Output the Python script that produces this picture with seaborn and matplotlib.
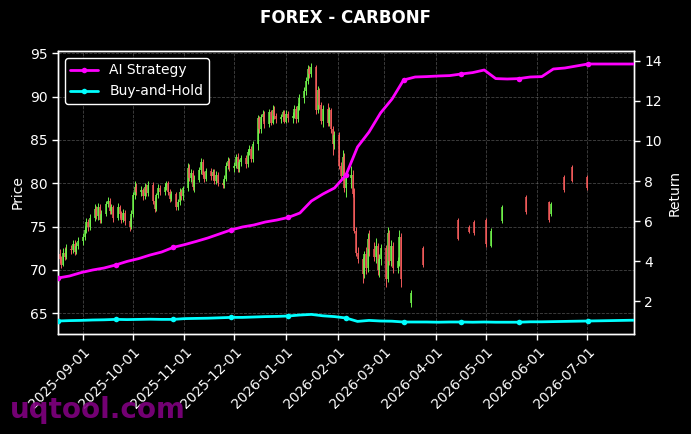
import numpy as np
import pandas as pd
import matplotlib
matplotlib.use("Agg")
import matplotlib.pyplot as plt
import matplotlib.dates as mdates
import seaborn as sns

# ---------------- data ----------------
title = "FOREX - CARBONF"

# dense daily (business day) candles
dense_start = "2025-08-18"
dense_end = "2026-03-11"
first_open = 71.8
dense_close = [
    71.2, 70.6, 72.0, 71.5, 72.4,
    72.3, 73.0, 72.1, 72.8, 73.3,
    73.8, 74.6, 75.5, 74.9, 76.0,
    77.0, 76.2, 77.3, 75.8, 76.5,
    77.6, 78.0, 76.8, 77.2, 76.0,
    77.2, 76.4, 75.8, 76.6, 75.6,
    75.0, 76.5, 78.6, 79.6, 79.0,
    79.2, 78.5, 79.6, 78.9, 79.8,
    78.0, 77.0, 78.6, 79.5, 79.0,
    79.6, 80.0, 79.0, 78.2, 78.8,
    77.2, 77.8, 79.0, 78.5, 79.4,
    81.8, 80.6, 81.2, 79.6, 80.4,
    81.5, 82.5, 81.0, 80.5, 81.4,
    80.8, 81.3, 80.2, 81.0, 80.0,
    79.8, 80.5, 82.0, 82.6, 81.8,
    82.0, 83.0, 81.6, 82.4, 82.9,
    82.2, 83.6, 84.0, 82.8, 84.5,
    87.5, 86.2, 87.6, 88.0, 86.8,
    88.2, 87.0, 88.5, 87.8, 87.4,
    87.6, 88.2, 87.1, 88.0, 87.5,
    87.8, 88.6, 87.4, 88.9, 89.8,
    90.6, 91.8, 93.2, 92.6, 93.4,
    88.5, 90.8, 89.0, 87.2, 88.6,
    87.0, 88.4, 86.2, 84.5, 85.6,
    82.0, 80.8, 83.0, 79.5, 80.6,
    81.0, 78.8, 74.5, 72.0, 71.2,
    69.5, 71.8, 70.2, 73.6, 72.4,
    71.5, 72.8, 70.0, 71.2, 72.5,
    69.0, 74.2, 71.0, 72.8, 70.2,
    71.0, 73.8, 69.0,
]
dense_high = [
    72.4, 71.6, 72.5, 72.6, 73.0,
    72.9, 73.5, 73.4, 73.2, 73.8,
    74.2, 75.1, 76.0, 75.9, 76.5,
    77.6, 77.4, 77.7, 77.6, 76.9,
    78.0, 78.4, 78.3, 77.6, 77.5,
    77.7, 77.5, 76.8, 77.0, 76.9,
    76.0, 76.9, 79.0, 80.2, 80.0,
    79.7, 79.5, 80.0, 79.9, 80.3,
    80.1, 78.4, 78.9, 79.9, 79.8,
    80.0, 80.3, 80.2, 79.3, 79.1,
    79.0, 78.2, 79.4, 79.3, 79.7,
    82.3, 82.2, 81.6, 81.5, 80.9,
    81.9, 82.9, 82.8, 81.4, 81.8,
    81.7, 81.6, 81.6, 81.4, 81.3,
    80.4, 80.9, 82.4, 83.0, 82.9,
    82.5, 83.4, 83.5, 82.8, 83.3,
    83.2, 84.0, 84.4, 84.3, 84.9,
    87.9, 87.8, 88.0, 88.4, 88.3,
    88.6, 88.5, 89.0, 88.9, 88.1,
    88.0, 88.5, 88.4, 88.4, 88.3,
    88.2, 89.0, 88.9, 89.3, 90.3,
    91.1, 92.2, 93.6, 93.5, 93.9,
    93.6, 91.2, 91.0, 89.4, 89.0,
    89.3, 88.8, 88.7, 86.6, 86.0,
    85.9, 82.5, 83.8, 83.5, 81.2,
    82.0, 81.5, 79.4, 75.0, 72.6,
    71.5, 72.2, 72.6, 74.2, 74.6,
    73.2, 73.7, 73.1, 71.8, 73.0,
    72.9, 74.9, 74.6, 73.5, 73.2,
    71.5, 74.6, 74.2,
]
dense_low = [
    70.8, 70.2, 70.4, 71.1, 71.2,
    71.8, 72.0, 71.7, 71.8, 72.4,
    72.9, 73.4, 74.2, 74.5, 74.6,
    75.6, 75.9, 75.8, 75.4, 75.4,
    76.2, 77.2, 76.5, 76.5, 75.5,
    75.7, 76.0, 75.4, 75.5, 75.2,
    74.5, 74.7, 76.1, 78.2, 78.6,
    78.5, 78.1, 78.2, 78.5, 78.5,
    77.6, 76.7, 76.8, 78.3, 78.6,
    78.6, 79.2, 78.6, 77.8, 77.9,
    76.9, 76.9, 77.5, 78.1, 78.1,
    79.1, 80.2, 80.1, 79.2, 79.0,
    80.1, 81.1, 80.7, 80.1, 80.2,
    80.4, 80.4, 79.9, 79.9, 79.7,
    79.4, 79.5, 80.2, 81.6, 81.4,
    81.3, 81.7, 81.3, 81.3, 82.0,
    81.8, 81.9, 83.2, 82.4, 82.5,
    83.8, 85.8, 85.8, 87.2, 86.4,
    86.5, 86.7, 86.8, 87.4, 87.0,
    87.0, 87.3, 86.9, 86.9, 87.1,
    87.0, 87.5, 87.0, 87.1, 88.5,
    89.3, 90.2, 91.4, 92.1, 92.2,
    88.0, 88.1, 88.6, 86.8, 86.5,
    86.6, 86.6, 85.8, 83.2, 84.0,
    81.6, 80.2, 80.4, 79.0, 78.4,
    79.4, 78.4, 74.2, 71.6, 70.8,
    68.5, 69.1, 69.5, 69.8, 71.6,
    71.0, 70.8, 69.4, 69.2, 70.6,
    68.0, 68.6, 70.6, 70.5, 69.6,
    69.6, 70.5, 68.0,
]

# sparse later candles
sparse_dates = ["2026-03-17", "2026-03-24", "2026-04-14", "2026-04-21", "2026-04-24",
                "2026-05-01", "2026-05-04", "2026-05-11", "2026-05-25", "2026-06-08",
                "2026-06-09", "2026-06-17", "2026-06-22", "2026-07-01"]
sparse_open = [66.2, 72.5, 75.8, 75.0, 75.5, 75.8, 72.8, 75.6, 78.4, 77.8, 76.4, 80.7, 81.9, 80.7]
sparse_close = [67.3, 70.6, 73.6, 74.4, 74.2, 73.0, 74.5, 77.3, 76.7, 75.8, 77.6, 79.2, 80.3, 79.4]
sparse_high = [67.7, 72.8, 76.0, 75.2, 75.7, 76.0, 74.8, 77.5, 78.6, 78.0, 77.8, 80.9, 82.1, 80.9]
sparse_low = [65.7, 70.3, 73.4, 74.2, 74.0, 72.6, 72.6, 75.4, 76.5, 75.5, 76.2, 79.0, 80.1, 79.2]

# return curves (right axis)
line_start = "2025-08-17"
line_end = "2026-07-29"
strategy = [3.15, 3.25, 3.42, 3.55, 3.65, 3.80, 3.98, 4.12, 4.30, 4.45,
            4.68, 4.82, 4.98, 5.15, 5.35, 5.55, 5.70, 5.80, 5.95, 6.05,
            6.18, 6.40, 7.00, 7.35, 7.65, 8.30, 9.70, 10.45, 11.40, 12.10,
            13.05, 13.20, 13.22, 13.25, 13.27, 13.35, 13.42, 13.55, 13.12, 13.10,
            13.12, 13.20, 13.22, 13.60, 13.65, 13.75, 13.85, 13.85, 13.85, 13.85,
            13.85]
buy_hold = [1.00, 1.02, 1.03, 1.05, 1.06, 1.08, 1.07, 1.08, 1.09, 1.08,
            1.08, 1.12, 1.13, 1.14, 1.16, 1.18, 1.18, 1.20, 1.22, 1.23,
            1.25, 1.30, 1.33, 1.26, 1.22, 1.15, 0.98, 1.03, 1.00, 0.99,
            0.95, 0.95, 0.95, 0.94, 0.95, 0.95, 0.94, 0.95, 0.94, 0.94,
            0.94, 0.96, 0.96, 0.97, 0.98, 0.99, 1.00, 1.01, 1.02, 1.03,
            1.04]
marker_idx = [0, 5, 10, 15, 20, 25, 30, 35, 40, 46]

# ---------------- build ----------------
dense_dates = pd.bdate_range(dense_start, dense_end)
dense_open = [first_open] + dense_close[:-1]

candles = pd.DataFrame({
    "date": list(dense_dates) + list(pd.to_datetime(sparse_dates)),
    "open": dense_open + sparse_open,
    "close": dense_close + sparse_close,
    "high": dense_high + sparse_high,
    "low": dense_low + sparse_low,
})
candles["up"] = candles["close"] >= candles["open"]

line_dates = pd.date_range(line_start, line_end, periods=len(strategy))
lines = pd.DataFrame({"date": line_dates, "AI Strategy": strategy, "Buy-and-Hold": buy_hold})

sns.set_theme(style="dark")
plt.rcParams.update({
    "font.family": ["DejaVu Sans"],
    "figure.facecolor": "black",
    "axes.facecolor": "black",
    "savefig.facecolor": "black",
    "text.color": "white",
    "axes.labelcolor": "white",
    "xtick.color": "white",
    "ytick.color": "white",
    "axes.edgecolor": "white",
})

fig = plt.figure(figsize=(6.91, 4.34), dpi=100)
ax = fig.add_axes([0.0839, 0.2304, 0.8336, 0.6521])
ax.set_facecolor("black")

green = "#6ef04a"
red = "#f05a5a"
colors = np.where(candles["up"], green, red)
body_lo = np.minimum(candles["open"], candles["close"])
body_hi = np.maximum(candles["open"], candles["close"])
wick_lo = np.minimum(candles["low"], body_lo)
wick_hi = np.maximum(candles["high"], body_hi)
ax.vlines(candles["date"], wick_lo, wick_hi, colors=colors, linewidth=0.7, zorder=2)
ax.vlines(candles["date"], body_lo, body_hi, colors=colors, linewidth=1.1, zorder=3)

ax.set_ylim(62.6, 95.25)
ax.set_xlim(pd.Timestamp(line_start), pd.Timestamp(line_end))
ax.set_yticks([65, 70, 75, 80, 85, 90, 95])
ax.set_ylabel("Price", color="white", fontsize=10)
ax.grid(True, linestyle="--", color="#888888", alpha=0.5, linewidth=0.6)
ax.xaxis.set_major_locator(mdates.MonthLocator())
ax.xaxis.set_major_formatter(mdates.DateFormatter("%Y-%m-%d"))
for lbl in ax.get_xticklabels():
    lbl.set_rotation(45)
    lbl.set_ha("right")
    lbl.set_rotation_mode("anchor")
ax.tick_params(axis="both", colors="white", labelsize=10, length=4, width=1,
               bottom=True, left=True)

ax2 = ax.twinx()
sns.lineplot(data=lines, x="date", y="AI Strategy", ax=ax2, color="#ff00ff",
             linewidth=2, marker="o", markersize=4, markevery=marker_idx,
             markeredgewidth=0, label="AI Strategy", zorder=5)
sns.lineplot(data=lines, x="date", y="Buy-and-Hold", ax=ax2, color="#00ffff",
             linewidth=2, marker="o", markersize=4, markevery=marker_idx,
             markeredgewidth=0, label="Buy-and-Hold", zorder=5)
ax2.set_ylim(0.35, 14.5)
ax2.set_yticks([2, 4, 6, 8, 10, 12, 14])
ax2.set_ylabel("Return", color="white", fontsize=10)
ax2.set_xlabel("")
ax2.grid(False)
ax2.tick_params(axis="y", colors="white", labelsize=10, length=4, width=1, right=True)
ax.set_xlabel("")

for a in (ax, ax2):
    for s in a.spines.values():
        s.set_color("white")
        s.set_linewidth(1.0)

leg = ax2.legend(loc="upper left", facecolor="black", edgecolor="white",
                 fontsize=10, framealpha=1.0)
for t in leg.get_texts():
    t.set_color("white")

fig.suptitle(title, color="white", fontsize=12, fontweight="bold", y=0.958, va="center")
fig.text(0.014, 0.037, "uqtool.com", fontsize=20, fontweight="bold",
         color="#800080", alpha=0.9, zorder=0)

fig.savefig("out.png", dpi=100, facecolor="black")
